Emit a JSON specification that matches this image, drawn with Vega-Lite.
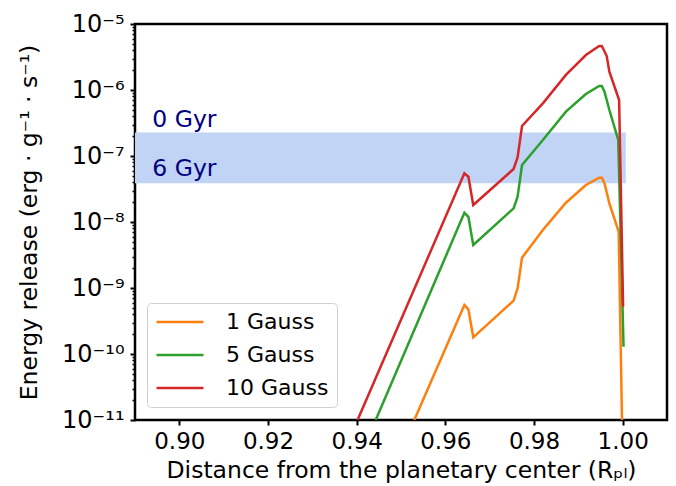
{
  "$schema": "https://vega.github.io/schema/vega-lite/v6.json",
  "width": 532,
  "height": 396,
  "autosize": "none",
  "padding": {"left": 135, "top": 24, "right": 9, "bottom": 66},
  "background": "white",
  "config": {
    "font": "DejaVu Sans",
    "view": {"stroke": "black", "strokeWidth": 2.5},
    "axis": {"labelColor": "black", "titleColor": "black", "tickColor": "black", "titleFontWeight": "normal", "grid": false, "domain": false}
  },
  "resolve": {"axis": {"y": "independent"}},
  "layer": [
    {
      "data": {"values": [{"x": 0.89, "x2": 1.0007, "lo": 3.86e-8, "hi": 2.27e-7}]},
      "mark": {"type": "rect", "color": "#c1d4f6", "clip": true},
      "encoding": {
        "x": {"field": "x", "type": "quantitative", "scale": {"domain": [0.89, 1.01], "nice": false, "zero": false}},
        "x2": {"field": "x2"},
        "y": {"field": "lo", "type": "quantitative", "scale": {"type": "log", "domain": [1e-11, 1e-5], "nice": false},
          "axis": {"orient": "left", "title": null, "labels": false, "tickSize": 3, "tickWidth": 1.5,
            "values": [2e-11,3e-11,4e-11,5e-11,6e-11,7e-11,8e-11,9e-11,2e-10,3e-10,4e-10,5e-10,6e-10,7e-10,8e-10,9e-10,2e-9,3e-9,4e-9,5e-9,6e-9,7e-9,8e-9,9e-9,2e-8,3e-8,4e-8,5e-8,6e-8,7e-8,8e-8,9e-8,2e-7,3e-7,4e-7,5e-7,6e-7,7e-7,8e-7,9e-7,2e-6,3e-6,4e-6,5e-6,6e-6,7e-6,8e-6,9e-6]}},
        "y2": {"field": "hi"}
      }
    },
    {
      "data": {"values": [
        {"series": "1 Gauss", "r": 0.9530, "e": 1e-11},
        {"series": "1 Gauss", "r": 0.9643, "e": 5.52e-10},
        {"series": "1 Gauss", "r": 0.9652, "e": 4.75e-10},
        {"series": "1 Gauss", "r": 0.9663, "e": 1.79e-10},
        {"series": "1 Gauss", "r": 0.9754, "e": 6.43e-10},
        {"series": "1 Gauss", "r": 0.9763, "e": 9.89e-10},
        {"series": "1 Gauss", "r": 0.9773, "e": 2.88e-9},
        {"series": "1 Gauss", "r": 0.9820, "e": 7.57e-9},
        {"series": "1 Gauss", "r": 0.9872, "e": 1.96e-8},
        {"series": "1 Gauss", "r": 0.9917, "e": 3.64e-8},
        {"series": "1 Gauss", "r": 0.9947, "e": 4.7e-8},
        {"series": "1 Gauss", "r": 0.9953, "e": 4.7e-8},
        {"series": "1 Gauss", "r": 0.9959, "e": 3.86e-8},
        {"series": "1 Gauss", "r": 0.9970, "e": 1.92e-8},
        {"series": "1 Gauss", "r": 0.9991, "e": 7.14e-9},
        {"series": "1 Gauss", "r": 0.99985, "e": 1e-11},
        {"series": "5 Gauss", "r": 0.9443, "e": 1e-11},
        {"series": "5 Gauss", "r": 0.9643, "e": 1.38e-8},
        {"series": "5 Gauss", "r": 0.9652, "e": 1.2e-8},
        {"series": "5 Gauss", "r": 0.9663, "e": 4.49e-9},
        {"series": "5 Gauss", "r": 0.9754, "e": 1.61e-8},
        {"series": "5 Gauss", "r": 0.9763, "e": 2.42e-8},
        {"series": "5 Gauss", "r": 0.9773, "e": 7.31e-8},
        {"series": "5 Gauss", "r": 0.9820, "e": 1.75e-7},
        {"series": "5 Gauss", "r": 0.9872, "e": 4.7e-7},
        {"series": "5 Gauss", "r": 0.9917, "e": 8.7e-7},
        {"series": "5 Gauss", "r": 0.9947, "e": 1.15e-6},
        {"series": "5 Gauss", "r": 0.9953, "e": 1.15e-6},
        {"series": "5 Gauss", "r": 0.9959, "e": 9.4e-7},
        {"series": "5 Gauss", "r": 0.9970, "e": 4.98e-7},
        {"series": "5 Gauss", "r": 0.9990, "e": 1.75e-7},
        {"series": "5 Gauss", "r": 1.0002, "e": 1.29e-10},
        {"series": "10 Gauss", "r": 0.9402, "e": 1e-11},
        {"series": "10 Gauss", "r": 0.9643, "e": 5.47e-8},
        {"series": "10 Gauss", "r": 0.9652, "e": 4.86e-8},
        {"series": "10 Gauss", "r": 0.9663, "e": 1.81e-8},
        {"series": "10 Gauss", "r": 0.9754, "e": 6.35e-8},
        {"series": "10 Gauss", "r": 0.9763, "e": 9.55e-8},
        {"series": "10 Gauss", "r": 0.9773, "e": 2.85e-7},
        {"series": "10 Gauss", "r": 0.9820, "e": 6.28e-7},
        {"series": "10 Gauss", "r": 0.9872, "e": 1.69e-6},
        {"series": "10 Gauss", "r": 0.9917, "e": 3.39e-6},
        {"series": "10 Gauss", "r": 0.9947, "e": 4.64e-6},
        {"series": "10 Gauss", "r": 0.9953, "e": 4.64e-6},
        {"series": "10 Gauss", "r": 0.9964, "e": 3.27e-6},
        {"series": "10 Gauss", "r": 0.9970, "e": 1.9e-6},
        {"series": "10 Gauss", "r": 0.9992, "e": 7.05e-7},
        {"series": "10 Gauss", "r": 1.0001, "e": 5.2e-10}
      ]},
      "mark": {"type": "line", "strokeWidth": 2.5, "clip": true},
      "encoding": {
        "x": {"field": "r", "type": "quantitative",
          "axis": {"title": "Distance from the planetary center (Rₚₗ)", "values": [0.9, 0.92, 0.94, 0.96, 0.98, 1.0], "format": ".2f",
            "labelFontSize": 23, "titleFontSize": 23.5, "tickSize": 5, "tickWidth": 2, "labelPadding": 5, "titlePadding": 5}},
        "y": {"field": "e", "type": "quantitative",
          "axis": {"orient": "left", "title": "Energy release (erg · g⁻¹ · s⁻¹)", "values": [1e-11, 1e-10, 1e-9, 1e-8, 1e-7, 1e-6, 1e-5],
            "labelExpr": "'10' + (datum.value < 5e-11 ? '⁻¹¹' : datum.value < 5e-10 ? '⁻¹⁰' : datum.value < 5e-9 ? '⁻⁹' : datum.value < 5e-8 ? '⁻⁸' : datum.value < 5e-7 ? '⁻⁷' : datum.value < 5e-6 ? '⁻⁶' : '⁻⁵')",
            "labelFontSize": 24, "titleFontSize": 23.5, "tickSize": 5, "tickWidth": 2, "labelPadding": 6, "titlePadding": 20}},
        "color": {"field": "series", "type": "nominal", "sort": ["1 Gauss", "5 Gauss", "10 Gauss"],
          "scale": {"domain": ["1 Gauss", "5 Gauss", "10 Gauss"], "range": ["#ff7f0e", "#2ca02c", "#d62728"]},
          "legend": {"title": null, "orient": "none", "legendX": 12, "legendY": 279, "direction": "vertical",
            "fillColor": "white", "strokeColor": "#d0d0d0", "cornerRadius": 4, "padding": 8,
            "symbolType": "M-4,0H4", "symbolSize": 138, "symbolStrokeWidth": 2.5, "symbolOffset": 14,
            "labelFontSize": 22, "labelColor": "black", "labelOffset": 35, "rowPadding": 11}}
      }
    },
    {
      "data": {"values": [{"label": "0 Gyr", "x": 0.8939, "y": 2.75e-7}, {"label": "6 Gyr", "x": 0.8939, "y": 4.98e-8}]},
      "mark": {"type": "text", "align": "left", "baseline": "alphabetic", "fontSize": 23.5, "color": "#000080"},
      "encoding": {
        "x": {"field": "x", "type": "quantitative"},
        "y": {"field": "y", "type": "quantitative", "axis": null},
        "text": {"field": "label"}
      }
    }
  ]
}
